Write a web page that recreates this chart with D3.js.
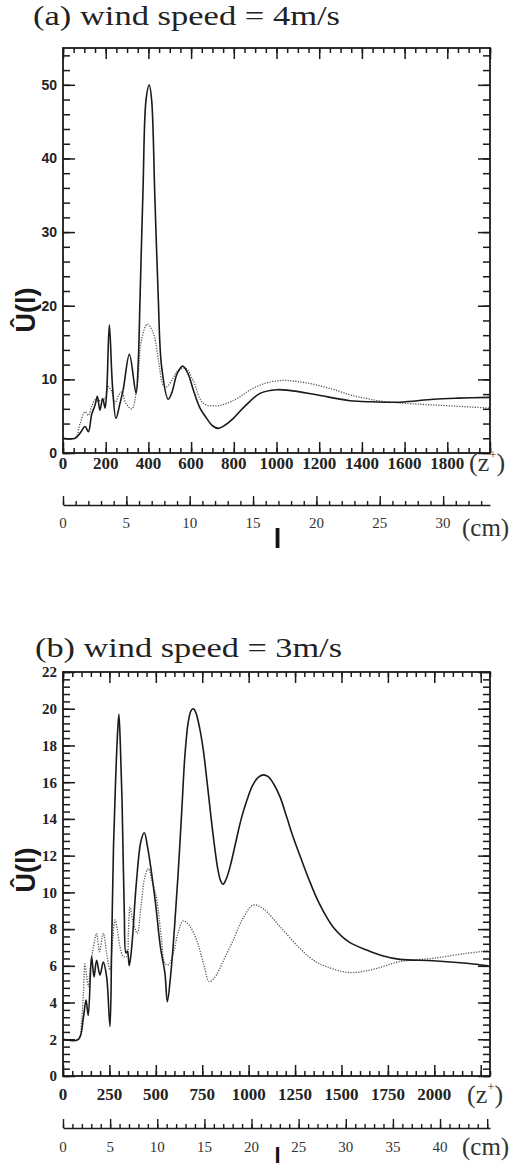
<!DOCTYPE html>
<html>
<head>
<meta charset="utf-8">
<script src="https://cdn.jsdelivr.net/npm/d3@7"></script>
<style>
  body { margin: 0; background: #fff; }
  svg { display: block; }
  .serif { font-family: "Liberation Serif", "Times New Roman", Times, serif; }
  .sans { font-family: "Liberation Sans", Arial, Helvetica, sans-serif; }
</style>
</head>
<body>
<svg id="chart" width="517" height="1169"></svg>
<script>
// ---------- panel (a): wind speed = 4 m/s ----------
const aSolidZ = [0, 56, 80, 103, 119, 134, 150, 161, 173, 186, 197, 205, 217, 232, 248, 267, 282, 311, 342, 352, 361, 375, 389, 404, 415, 430, 446, 462, 493, 510, 535, 561, 585, 610, 640, 673, 700, 727, 760, 798, 850, 923, 1001, 1060, 1188, 1344, 1450, 1578, 1735, 1850, 2000];
const aSolidU = [2, 2, 2.7, 3.6, 2.9, 5.2, 6.5, 7.7, 5.8, 7.4, 6.1, 8.5, 17.4, 9, 4.7, 6.75, 8.6, 13.4, 8.1, 12, 21.2, 36, 48, 50, 48, 35, 21.2, 11.7, 7.3, 8.2, 10.8, 11.8, 10.8, 8.6, 6.2, 4.7, 3.7, 3.35, 3.8, 4.7, 6.3, 8.1, 8.6, 8.5, 7.9, 7.1, 6.95, 6.9, 7.3, 7.45, 7.56];
const aDotZ = [0, 56, 80, 103, 119, 134, 150, 165, 180, 197, 212, 228, 244, 260, 275, 295, 322, 345, 368, 395, 423, 447, 470, 486, 510, 540, 575, 610, 657, 720, 780, 829, 876, 950, 1030, 1100, 1188, 1270, 1344, 1420, 1500, 1657, 1813, 2000];
const aDotU = [2, 2, 4.0, 5.6, 5.1, 6.3, 7.2, 7.0, 7.3, 7.4, 9.0, 8.4, 6.75, 7.8, 8.3, 6.75, 6.0, 8.6, 15.4, 17.5, 16.3, 12.6, 9.2, 9.0, 9.9, 11.2, 11.5, 9.8, 6.75, 6.4, 6.9, 7.65, 8.56, 9.5, 9.85, 9.7, 9.24, 8.6, 7.9, 7.4, 7.0, 6.65, 6.4, 6.1];
const aZLabels = [0, 200, 400, 600, 800, 1000, 1200, 1400, 1600, 1800];
const aULabels = [0, 10, 20, 30, 40, 50];
const aCmLabels = [0, 5, 10, 15, 20, 25, 30];

// ---------- panel (b): wind speed = 3 m/s ----------
const bSolidZ = [0, 83, 110, 124, 136, 154, 167, 181, 199, 217, 235, 253, 262, 272, 283, 293, 301, 309, 318, 330, 339, 347, 357, 370, 395, 420, 438, 455, 496, 525, 549, 562, 580, 600, 620, 640, 657, 675, 690, 702, 715, 735, 755, 774, 795, 815, 835, 850, 862, 878, 900, 930, 960, 990, 1020, 1050, 1079, 1105, 1135, 1169, 1205, 1240, 1280, 1321, 1380, 1456, 1540, 1636, 1720, 1815, 1994, 2174, 2290];
const bSolidU = [2, 2, 3.2, 4.14, 3.3, 6.5, 5.4, 6.3, 5.5, 6.2, 5.4, 2.7, 7, 12.5, 16, 18.5, 19.7, 18, 15, 9, 6.7, 6.8, 6.0, 7, 10.5, 12.8, 13.25, 12.5, 9.6, 7, 5.6, 4.05, 5.5, 8, 11, 14.5, 17.5, 19.3, 19.9, 20.0, 19.8, 19, 17.8, 16.2, 14.3, 12.6, 11.2, 10.6, 10.44, 10.7, 11.4, 12.7, 14.0, 15.0, 15.8, 16.25, 16.4, 16.3, 15.9, 15.2, 14.1, 13.0, 11.9, 10.8, 9.4, 8.1, 7.3, 6.86, 6.55, 6.35, 6.28, 6.14, 6.0];
const bDotZ = [0, 83, 100, 110, 118, 127, 136, 150, 163, 181, 196, 217, 235, 253, 268, 280, 292, 307, 325, 343, 352, 361, 375, 400, 420, 440, 460, 480, 505, 530, 549, 567, 594, 620, 648, 680, 720, 760, 788, 820, 860, 917, 970, 1025, 1080, 1169, 1276, 1350, 1420, 1546, 1671, 1815, 1994, 2174, 2290];
const bDotU = [2, 2, 3, 4.5, 6.1, 5.5, 4.86, 6.2, 6.95, 7.77, 6.77, 7.77, 6.68, 5.77, 7.5, 8.5, 8, 7.04, 6.5, 6.5, 7.8, 9.2, 8.5, 7.77, 9.2, 10.8, 11.3, 10.6, 9.6, 7.5, 6.14, 6.05, 6.68, 7.8, 8.45, 8.2, 7.4, 6, 5.14, 5.4, 6.2, 7.4, 8.6, 9.31, 9.1, 8.13, 6.95, 6.3, 5.95, 5.63, 5.81, 6.23, 6.41, 6.68, 6.82];
const bZLabels = [0, 250, 500, 750, 1000, 1250, 1500, 1750, 2000];
const bULabels = [0, 2, 4, 6, 8, 10, 12, 14, 16, 18, 20, 22];
const bCmLabels = [0, 5, 10, 15, 20, 25, 30, 35, 40];

const INK = "#1a1a1a";
const svg = d3.select("#chart");

function pairs(zs, us) { return zs.map((z, i) => [z, us[i]]); }

function drawPanel(p) {
  const g = svg.append("g");
  const x = d3.scaleLinear().domain([0, p.zMax]).range([p.left, p.right]);
  const y = d3.scaleLinear().domain([0, p.uMax]).range([p.bottom, p.top]);
  const cm = d3.scaleLinear().domain([0, p.cmMax]).range([p.left, p.right]);

  // title
  g.append("text").attr("class", "serif")
    .attr("x", p.titleX).attr("y", p.titleY)
    .attr("font-size", 28).attr("fill", "#222")
    .attr("textLength", 307).attr("lengthAdjust", "spacingAndGlyphs")
    .text(p.title);

  // curves
  const line = d3.line().x(d => x(d[0])).y(d => y(d[1])).curve(d3.curveCatmullRom.alpha(0.5));
  g.append("path").datum(pairs(p.dotZ, p.dotU))
    .attr("d", line).attr("fill", "none")
    .attr("stroke", "#555").attr("stroke-width", 1.3)
    .attr("stroke-dasharray", "1.2 1.4");
  g.append("path").datum(pairs(p.solidZ, p.solidU))
    .attr("d", line).attr("fill", "none")
    .attr("stroke", INK).attr("stroke-width", 1.6)
    .attr("stroke-linejoin", "round");

  // inward ticks on all four sides
  const zMinor = d3.range(0, p.zMax + 1e-6, p.zMinorStep);
  const zMajor = d3.range(0, p.zMax + 1e-6, p.zMajorStep);
  const uMinor = d3.range(0, p.uMax + 1e-6, p.uMinorStep);
  const uMajor = d3.range(0, p.uMax + 1e-6, p.uMajorStep);
  const axisStyle = sel => {
    sel.select(".domain").remove();
    sel.selectAll("line").attr("stroke", INK).attr("stroke-width", 1.5);
  };
  const addAxis = (gen, tx, ty) => g.append("g")
    .attr("transform", `translate(${tx},${ty})`).call(gen).call(axisStyle);

  addAxis(d3.axisTop(x).tickValues(zMinor).tickSize(5).tickFormat(""), 0, p.bottom);
  addAxis(d3.axisTop(x).tickValues(zMajor).tickSize(11).tickFormat(""), 0, p.bottom);
  addAxis(d3.axisBottom(x).tickValues(zMinor).tickSize(5).tickFormat(""), 0, p.top);
  addAxis(d3.axisBottom(x).tickValues(zMajor).tickSize(11).tickFormat(""), 0, p.top);
  addAxis(d3.axisRight(y).tickValues(uMinor).tickSize(7).tickFormat(""), p.left, 0);
  addAxis(d3.axisRight(y).tickValues(uMajor).tickSize(12).tickFormat(""), p.left, 0);
  addAxis(d3.axisLeft(y).tickValues(uMinor).tickSize(7).tickFormat(""), p.right, 0);
  addAxis(d3.axisLeft(y).tickValues(uMajor).tickSize(12).tickFormat(""), p.right, 0);

  // frame
  g.append("rect")
    .attr("x", p.left).attr("y", p.top)
    .attr("width", p.right - p.left).attr("height", p.bottom - p.top)
    .attr("fill", "none").attr("stroke", INK).attr("stroke-width", 1.8);

  // y tick labels
  g.append("g").selectAll("text").data(p.uLabels).join("text")
    .attr("class", p.uFont)
    .attr("x", 57).attr("y", d => y(d)).attr("dy", "0.36em")
    .attr("text-anchor", "end")
    .attr("font-weight", "bold").attr("font-size", p.uFontSize)
    .attr("fill", "#222")
    .text(d => d);

  // z+ tick labels
  g.append("g").selectAll("text").data(p.zLabels).join("text")
    .attr("class", "serif")
    .attr("x", d => x(d)).attr("y", p.zLabelY)
    .attr("text-anchor", "middle")
    .attr("font-weight", "bold").attr("font-size", 17)
    .attr("fill", "#222")
    .text(d => d);

  // (z+) unit
  const zu = g.append("text").attr("class", "serif")
    .attr("x", p.zUnitX).attr("y", p.zUnitY)
    .attr("font-size", 26).attr("fill", "#333");
  zu.append("tspan").text("(z");
  zu.append("tspan").attr("font-size", 13).attr("dy", -12).text("+");
  zu.append("tspan").attr("dy", 12).text(")");

  // length axis in cm
  const cmMinor = d3.range(0, p.cmMax, 1);
  const cmMajor = d3.range(0, p.cmMax, 5);
  const cmG = g.append("g").attr("transform", `translate(0,${p.cmY})`)
    .call(d3.axisTop(cm).tickValues(cmMinor).tickSize(4).tickSizeOuter(0).tickFormat(""));
  cmG.select(".domain").attr("stroke", INK).attr("stroke-width", 1.5);
  cmG.selectAll("line").attr("stroke", INK).attr("stroke-width", 1.4);
  g.append("g").attr("transform", `translate(0,${p.cmY})`)
    .call(d3.axisTop(cm).tickValues(cmMajor).tickSize(9).tickFormat(""))
    .call(sel => {
      sel.select(".domain").remove();
      sel.selectAll("line").attr("stroke", INK).attr("stroke-width", 1.4);
    });

  g.append("g").selectAll("text").data(p.cmLabels).join("text")
    .attr("class", "serif")
    .attr("x", d => cm(d)).attr("y", p.cmLabelY)
    .attr("text-anchor", "middle")
    .attr("font-size", 15).attr("fill", "#333")
    .text(d => d);

  g.append("text").attr("class", "serif")
    .attr("x", 462).attr("y", p.cmUnitY)
    .attr("font-size", 25).attr("fill", "#333")
    .text("(cm)");

  // length symbol under the cm axis
  g.append("text").attr("class", "sans")
    .attr("x", 277.5).attr("y", p.ellY)
    .attr("text-anchor", "middle")
    .attr("font-weight", "bold").attr("font-size", p.ellSize)
    .attr("fill", "#111")
    .text("l");

  // y axis title
  g.append("text").attr("class", "sans")
    .attr("transform", `translate(35,${p.yTitleY}) rotate(-90)`)
    .attr("text-anchor", "middle")
    .attr("font-weight", "bold").attr("font-size", 27)
    .attr("fill", "#1a1a1a")
    .text("Û(l)");
}

drawPanel({
  title: "(a) wind speed = 4m/s", titleX: 33, titleY: 25,
  left: 63, right: 490, top: 48, bottom: 453,
  zMax: 2000, zMajorStep: 200, zMinorStep: 50,
  uMax: 55, uMajorStep: 10, uMinorStep: 2,
  cmMax: 33.7, cmY: 505, cmLabelY: 528, cmUnitY: 536,
  zLabelY: 469, zUnitX: 469, zUnitY: 471, ellY: 548, ellSize: 27, yTitleY: 310,
  uFont: "sans", uFontSize: 14,
  solidZ: aSolidZ, solidU: aSolidU, dotZ: aDotZ, dotU: aDotU,
  zLabels: aZLabels, uLabels: aULabels, cmLabels: aCmLabels
});

drawPanel({
  title: "(b) wind speed = 3m/s", titleX: 35, titleY: 657,
  left: 63, right: 490, top: 672, bottom: 1076,
  zMax: 2300, zMajorStep: 250, zMinorStep: 50,
  uMax: 22, uMajorStep: 2, uMinorStep: 0.4,
  cmMax: 45.3, cmY: 1128, cmLabelY: 1152, cmUnitY: 1155,
  zLabelY: 1100, zUnitX: 467, zUnitY: 1103, ellY: 1163, ellSize: 22, yTitleY: 870,
  uFont: "serif", uFontSize: 15,
  solidZ: bSolidZ, solidU: bSolidU, dotZ: bDotZ, dotU: bDotU,
  zLabels: bZLabels, uLabels: bULabels, cmLabels: bCmLabels
});
</script>
</body>
</html>
